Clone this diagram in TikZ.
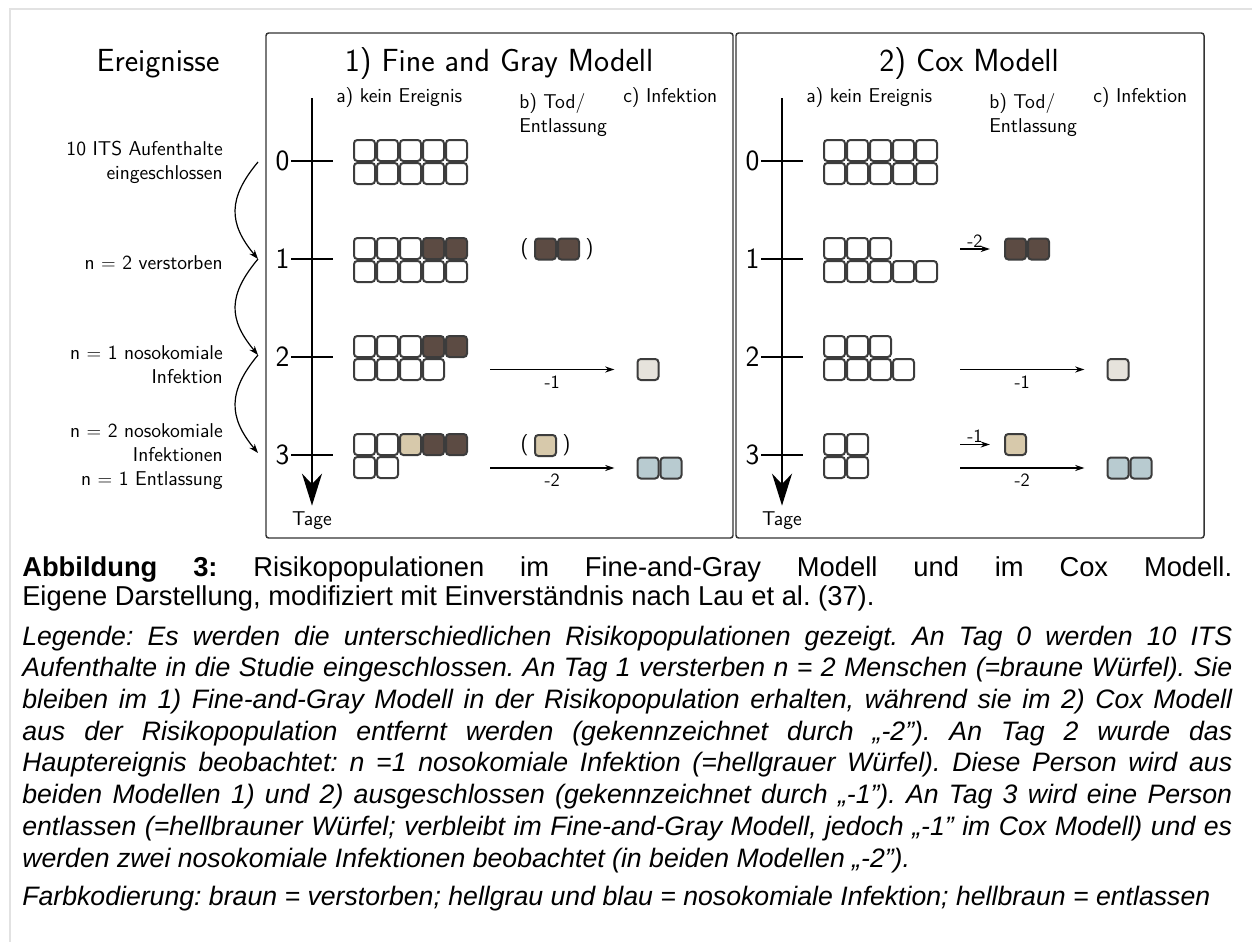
\documentclass[tikz,border=0pt]{standalone}
\usepackage{fontspec}
\newfontfamily\capfont{Liberation Sans}
\usetikzlibrary{arrows.meta,positioning}
\definecolor{cellline}{HTML}{3C3C3C}
\definecolor{panelline}{HTML}{333333}
\definecolor{deadbrown}{HTML}{5C4B43}
\definecolor{leavetan}{HTML}{D7C9AB}
\definecolor{infgray}{HTML}{E6E3DC}
\definecolor{infblue}{HTML}{B8CBD0}
\definecolor{framegray}{HTML}{E2E2E2}
\hyphenpenalty=10000
\frenchspacing

\begin{document}
\begin{tikzpicture}[
  x=0.75pt, y=-0.75pt,
  panel/.style={draw=panelline, line width=1.1pt, rounded corners=2pt, minimum height=378.75pt},
  cell/.style={draw=cellline, fill=white, line width=1.5pt, rounded corners=2.5pt, minimum size=15.75pt, inner sep=0pt},
  head/.style={font=\sffamily\fontsize{24}{28}\selectfont, inner sep=0pt},
  lbl/.style={font=\sffamily\fontsize{15}{18}\selectfont, inner sep=0pt},
  daynum/.style={font=\sffamily\fontsize{22}{26}\selectfont, inner sep=1pt},
  num/.style={font=\sffamily\fontsize{14}{16}\selectfont, inner sep=1pt},
  paren/.style={font=\sffamily\fontsize{16}{18}\selectfont, inner sep=0pt},
  axis/.style={line width=1.5pt, -{Stealth[length=24pt, width=15pt]}},
  daytick/.style={line width=1.5pt},
  flow/.style={line width=1pt, -{Stealth[length=7pt, width=4.5pt]}},
  evarr/.style={line width=0.9pt, -{Stealth[length=7pt, width=5pt]}},
  captext/.style={font=\capfont\frenchspacing\fontsize{20.5}{21.75}\selectfont, text width=907.5pt, align=justify, inner sep=0pt},
  legtext/.style={font=\capfont\itshape\frenchspacing\fontsize{20}{23.8}\selectfont, text width=907.5pt, align=justify, inner sep=0pt}
]
\useasboundingbox (0,0) rectangle (1252,942);

% Page frame (top and left edge)
\draw[framegray, line width=2pt] (10,942) -- (10,9) -- (1252,9);

% Model panels
\node[panel, minimum width=350.25pt] (fgpanel) at (499.5,285.5) {};
\node[panel, minimum width=351pt] (coxpanel) at (970,285.5) {};

% Headings
\node[head, anchor=base] (evhead) at (158,71) {Ereignisse};
\node[head, anchor=base] (fghead) at (499,71) {1) Fine and Gray Modell};
\node[head, anchor=base] (coxhead) at (969,71) {2) Cox Modell};

% Column heads
\node[lbl, anchor=base west] (fgcola) at (336,103) {a) kein Ereignis};
\node[lbl, anchor=north west, align=left] (fgcolb) at (519,93) {b) Tod/\\Entlassung};
\node[lbl, anchor=base west] (fgcolc) at (623,103) {c) Infektion};
\node[lbl, anchor=base west] (coxcola) at (806,103) {a) kein Ereignis};
\node[lbl, anchor=north west, align=left] (coxcolb) at (989,93) {b) Tod/\\Entlassung};
\node[lbl, anchor=base west] (coxcolc) at (1093,103) {c) Infektion};

% Time axes with day ticks
\foreach \p/\dx in {fg/0, cox/470} {
  \coordinate (\p-top) at (312+\dx,98);
  \node[lbl, anchor=base] (\p-days) at (312+\dx,525) {Tage};
  \draw[axis, shorten >=4pt] (\p-top) -- (\p-days);
  \foreach \d/\ty in {0/161, 1/259, 2/357, 3/455} {
    \node[daynum, anchor=east] (\p-day\d) at (291+\dx,\ty) {\d};
    \draw[daytick] (\p-day\d.east) -- ++(42,0);
  }
}

% Events on the left
\node[lbl, align=right, anchor=east] (ev0) at (223,162.5) {10 ITS Aufenthalte\\eingeschlossen};
\node[lbl, align=right, anchor=east] (ev1) at (223,263) {n $=$ 2 verstorben};
\node[lbl, align=right, anchor=east] (ev2) at (223,365) {n $=$ 1 nosokomiale\\Infektion};
\node[lbl, align=right, anchor=east] (ev3) at (223,457) {n $=$ 2 nosokomiale\\Infektionen\\n $=$ 1 Entlassung};

\coordinate (evs0) at (258,162);
\coordinate (evs1) at (258,259);
\coordinate (evs2) at (258,355);
\coordinate (evs3) at (258,453);
\foreach \a/\b in {0/1, 1/2, 2/3}
  \draw[evarr] (evs\a) .. controls +(-30,36) and +(-30,-36) .. (evs\b);

% Risk sets, Fine and Gray (top row / bottom row per day)
\foreach \d/\ty/\toprow/\botrow in {
  0/161/{white,white,white,white,white}/{white,white,white,white,white},
  1/259/{white,white,white,deadbrown,deadbrown}/{white,white,white,white,white},
  2/357/{white,white,white,deadbrown,deadbrown}/{white,white,white,white},
  3/455/{white,white,leavetan,deadbrown,deadbrown}/{white,white}} {
  \foreach \c [count=\i from 0] in \toprow
    \node[cell, fill=\c] (fg\d-t\i) at (364.5+23*\i,\ty-10.5) {};
  \foreach \c [count=\i from 0] in \botrow
    \node[cell, fill=\c] (fg\d-b\i) at (364.5+23*\i,\ty+12.5) {};
}

% Risk sets, Cox
\foreach \d/\ty/\ntop/\nbot in {0/161/4/4, 1/259/2/4, 2/357/2/3, 3/455/1/1} {
  \foreach \i in {0,...,\ntop}
    \node[cell] (cox\d-t\i) at (834.5+23*\i,\ty-10.5) {};
  \foreach \i in {0,...,\nbot}
    \node[cell] (cox\d-b\i) at (834.5+23*\i,\ty+12.5) {};
}

% Fine and Gray: competing events stay in the risk set
\foreach \i in {0,1}
  \node[cell, fill=deadbrown] (fgdead\i) at (545.5+23*\i,249) {};
\node[paren, left=4pt of fgdead0] (fgdeadl) {(};
\node[paren, right=4pt of fgdead1] (fgdeadr) {)};
\node[cell, fill=leavetan] (fgleave) at (545.5,445.5) {};
\node[paren, left=4pt of fgleave] (fgleavel) {(};
\node[paren, right=4pt of fgleave] (fgleaver) {)};

% Fine and Gray: infections leave the risk set
\node[cell, fill=infgray] (fginf2) at (648,369.5) {};
\foreach \i in {0,1}
  \node[cell, fill=infblue] (fginf3-\i) at (648+23*\i,468) {};
\coordinate (fgout2) at (490,369.5);
\coordinate (fgout3) at (490,468);
\draw[flow] (fgout2) -- ([xshift=-16.5pt]fginf2.west) node[num, midway, below=3pt] {-1};
\draw[flow] (fgout3) -- ([xshift=-16.5pt]fginf3-0.west) node[num, midway, below=3pt] {-2};

% Cox: competing events are removed
\foreach \i in {0,1}
  \node[cell, fill=deadbrown] (coxdead\i) at (1015.5+23*\i,249) {};
\node[cell, fill=leavetan] (coxleave) at (1015.5,444.5) {};
\coordinate (coxout1) at (960,249);
\coordinate (coxoutl3) at (960,444.5);
\draw[flow] (coxout1) -- ([xshift=-10.5pt]coxdead0.west) node[num, midway, above=0pt] {-2};
\draw[flow] (coxoutl3) -- ([xshift=-10.5pt]coxleave.west) node[num, midway, above=0pt] {-1};

% Cox: infections
\node[cell, fill=infgray] (coxinf2) at (1118,369.5) {};
\foreach \i in {0,1}
  \node[cell, fill=infblue] (coxinf3-\i) at (1118+23*\i,468) {};
\coordinate (coxout2) at (960,369.5);
\coordinate (coxout3) at (960,468);
\draw[flow] (coxout2) -- ([xshift=-16.5pt]coxinf2.west) node[num, midway, below=3pt] {-1};
\draw[flow] (coxout3) -- ([xshift=-16.5pt]coxinf3-0.west) node[num, midway, below=3pt] {-2};

% Caption and legend
\node[captext, anchor=base west] (caption) at (22,576) {\textbf{Abbildung 3:} Risikopopulationen im Fine-and-Gray Modell und im Cox Modell.\linebreak Eigene Darstellung, modifiziert mit Einverständnis nach Lau et al. (37).};
\node[legtext, anchor=base west] (legend) at (22,645) {Legende: Es werden die unterschiedlichen Risikopopulationen gezeigt. An Tag 0 werden 10 ITS\linebreak Aufenthalte in die Studie eingeschlossen. An Tag 1 versterben n = 2 Menschen (=braune Würfel). Sie\linebreak bleiben im 1) Fine-and-Gray Modell in der Risikopopulation erhalten, während sie im 2) Cox Modell\linebreak aus der Risikopopulation entfernt werden (gekennzeichnet durch „-2”). An Tag 2 wurde das\linebreak Hauptereignis beobachtet: n =1 nosokomiale Infektion (=hellgrauer Würfel). Diese Person wird aus\linebreak beiden Modellen 1) und 2) ausgeschlossen (gekennzeichnet durch „-1”). An Tag 3 wird eine Person\linebreak entlassen (=hellbrauner Würfel; verbleibt im Fine-and-Gray Modell, jedoch „-1” im Cox Modell) und es\linebreak werden zwei nosokomiale Infektionen beobachtet (in beiden Modellen „-2”).};
\node[legtext, anchor=base west] (colorkey) at (22,905) {Farbkodierung: braun = verstorben; hellgrau und blau = nosokomiale Infektion; hellbraun = entlassen};

\end{tikzpicture}
\end{document}
